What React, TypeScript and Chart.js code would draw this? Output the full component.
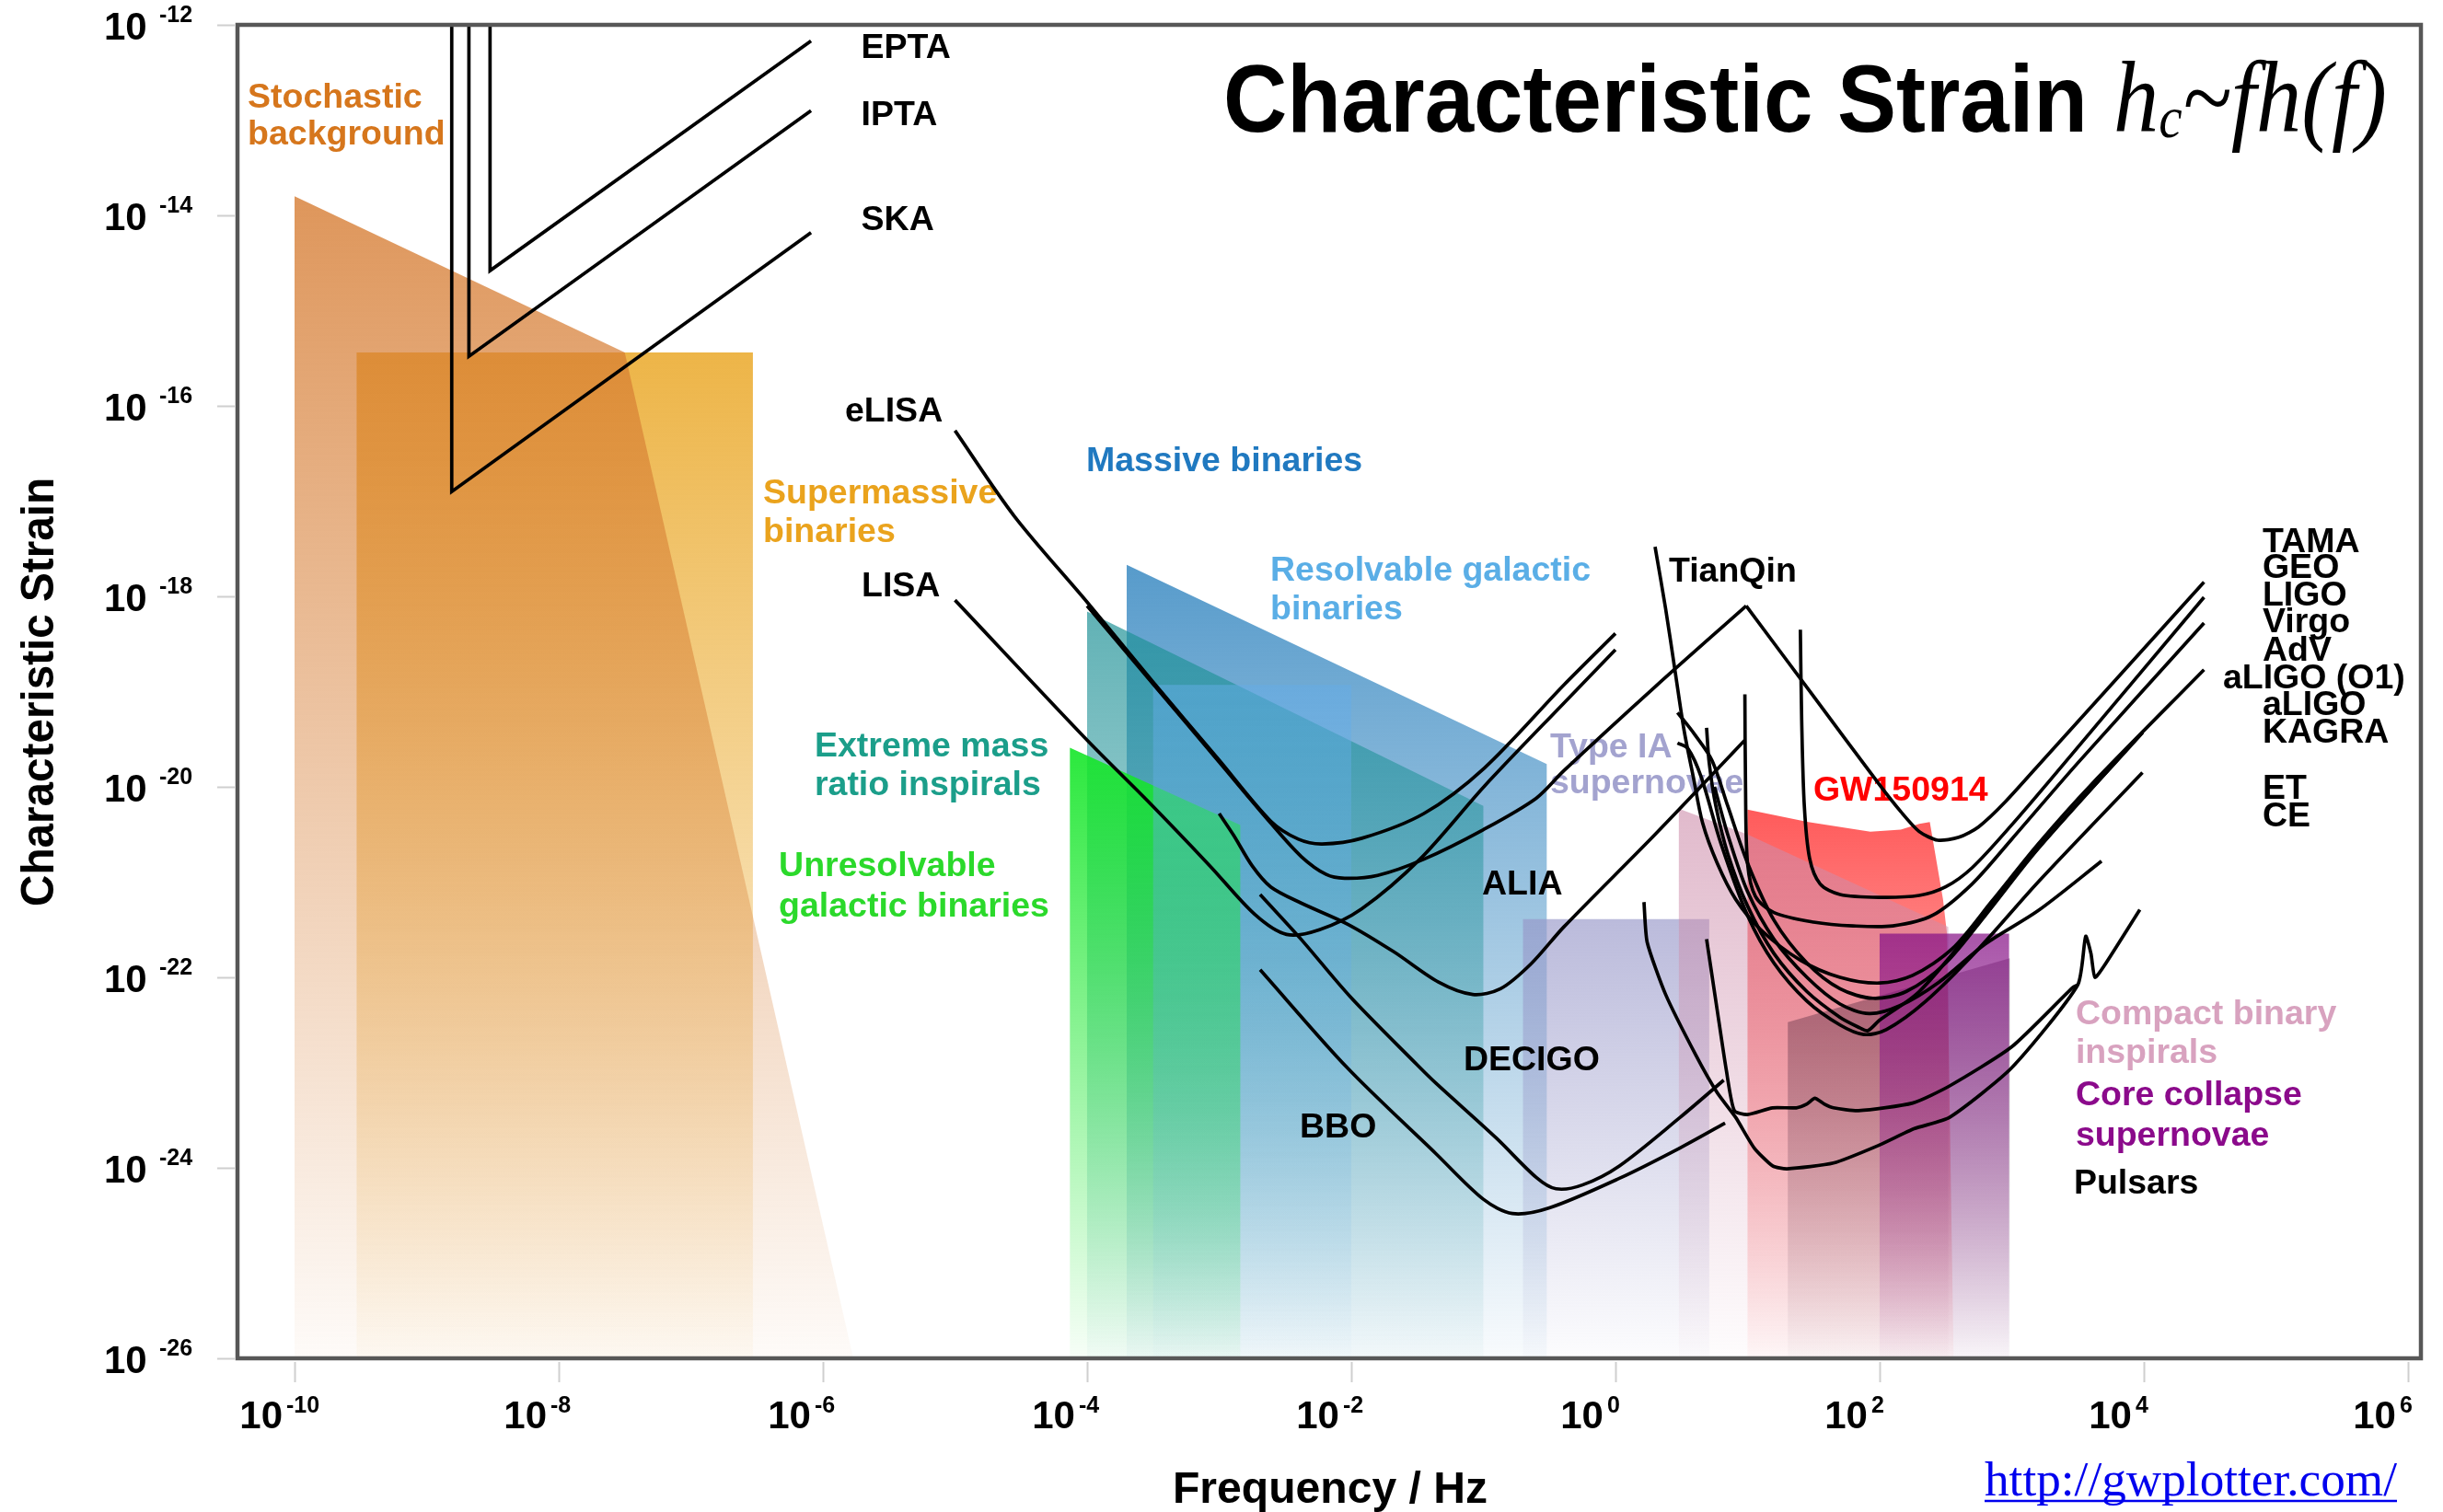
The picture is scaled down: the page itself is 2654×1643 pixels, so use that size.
import { useEffect, useRef } from 'react';
import { Chart, registerables } from 'chart.js';

Chart.register(...registerables);

type Pt = [number, number];

const W = 2654;
const H = 1643;

// ---- axes (log10 values) ----
const X_TICKS = [-10, -8, -6, -4, -2, 0, 2, 4, 6];
const Y_TICKS = [-12, -14, -16, -18, -20, -22, -24, -26];
const X_RANGE: Pt = [-10.432, 6.098];
const Y_RANGE: Pt = [-26, -12];

// ---- source regions: [log10 f (Hz), log10 h_c] ----
const SUPERMASSIVE_BINARIES: Pt[] = [[-9.53, -15.44], [-6.53, -15.44], [-6.53, -26], [-9.53, -26]];
const STOCHASTIC_BACKGROUND: Pt[] = [[-10.0, -13.8], [-7.5, -15.44], [-5.77, -26], [-10.0, -26]];
const MASSIVE_BINARIES: Pt[] = [[-3.7, -17.67], [-0.52, -19.76], [-0.52, -26], [-3.7, -26]];
const EMRI: Pt[] = [[-4.0, -18.16], [-1.0, -20.2], [-1.0, -26], [-4.0, -26]];
const UNRESOLVABLE_GB: Pt[] = [[-4.13, -19.59], [-2.84, -20.4], [-2.84, -26], [-4.13, -26]];
const RESOLVABLE_GB: Pt[] = [[-3.5, -18.93], [-2.0, -18.93], [-2.0, -26], [-3.5, -26]];
const TYPE_IA_SN: Pt[] = [[-0.7, -21.39], [0.71, -21.39], [0.71, -26], [-0.7, -26]];
const GW150914: Pt[] = [[1.0, -20.24], [1.46, -20.37], [1.93, -20.47], [2.16, -20.45], [2.3, -20.39], [2.38, -20.37], [2.48, -21.18], [2.51, -21.54], [2.56, -26], [1.0, -26]];
const COMPACT_BINARY: Pt[] = [[0.48, -20.23], [1.0, -20.5], [2.52, -21.47], [2.52, -26], [0.48, -26]];
const PULSARS: Pt[] = [[1.305, -22.47], [2.985, -21.8], [2.985, -26], [1.305, -26]];
const CORE_COLLAPSE_SN: Pt[] = [[2.0, -21.54], [2.98, -21.54], [2.98, -26], [2.0, -26]];

// ---- detector sensitivity curves ----
const EPTA: Pt[] = [[-8.52, -12.0], [-8.52, -14.58], [-6.09, -12.17]];
const IPTA: Pt[] = [[-8.68, -12.0], [-8.68, -15.48], [-6.09, -12.9]];
const SKA: Pt[] = [[-8.81, -12.0], [-8.81, -16.9], [-6.09, -14.18]];
const ELISA: Pt[] = [[-5.0, -16.26], [-4.55, -17.16], [-4.0, -18.06], [-3.5, -18.9], [-3.0, -19.72], [-2.61, -20.36], [-2.4, -20.55], [-2.22, -20.6], [-1.92, -20.54], [-1.45, -20.28], [-0.99, -19.8], [-0.39, -18.93], [0.0, -18.39]];
const TIANQIN: Pt[] = [[-4.0, -18.1], [-3.5, -18.92], [-3.0, -19.74], [-2.61, -20.38], [-2.38, -20.73], [-2.19, -20.92], [-2.05, -20.96], [-1.8, -20.93], [-1.45, -20.76], [-1.0, -20.45], [-0.6, -20.12], [-0.39, -19.83], [0.3, -18.95], [0.99, -18.1]];
const LISA: Pt[] = [[-5.0, -18.04], [-4.0, -19.51], [-3.54, -20.15], [-3.07, -20.83], [-2.73, -21.34], [-2.49, -21.55], [-2.24, -21.5], [-1.92, -21.28], [-1.48, -20.76], [-0.99, -19.99], [-0.39, -19.12], [0.0, -18.56]];
const ALIA: Pt[] = [[-3.0, -20.28], [-2.89, -20.51], [-2.75, -20.83], [-2.61, -21.05], [-2.38, -21.22], [-2.03, -21.44], [-1.68, -21.73], [-1.34, -22.05], [-1.08, -22.18], [-0.87, -22.12], [-0.64, -21.86], [-0.39, -21.47], [0.3, -20.5], [0.98, -19.51]];
const DECIGO: Pt[] = [[-2.69, -21.13], [-2.38, -21.6], [-2.01, -22.2], [-1.5, -22.92], [-1.36, -23.11], [-0.9, -23.69], [-0.6, -24.1], [-0.45, -24.22], [-0.25, -24.18], [0.03, -23.98], [0.49, -23.47], [0.82, -23.08]];
const BBO: Pt[] = [[-2.69, -21.92], [-2.03, -22.95], [-1.36, -23.85], [-1.0, -24.33], [-0.78, -24.48], [-0.5, -24.42], [0.03, -24.11], [0.49, -23.79], [0.83, -23.53]];
const TAMA: Pt[] = [[0.99, -18.1], [1.5, -19.05], [2.0, -19.98], [2.16, -20.26], [2.3, -20.47], [2.44, -20.56], [2.6, -20.53], [2.75, -20.42], [2.95, -20.16], [3.25, -19.7], [4.456, -17.85]];
const GEO: Pt[] = [[1.4, -18.35], [1.41, -19.3], [1.43, -20.2], [1.47, -20.75], [1.55, -21.02], [1.7, -21.13], [2.0, -21.16], [2.3, -21.14], [2.5, -21.05], [2.7, -20.85], [3.0, -20.4], [3.4, -19.75], [4.456, -18.01]];
const LIGO: Pt[] = [[0.98, -19.03], [0.985, -20.0], [1.0, -20.8], [1.06, -21.15], [1.2, -21.32], [1.5, -21.42], [1.8, -21.46], [2.1, -21.46], [2.4, -21.35], [2.7, -21.02], [3.0, -20.55], [3.5, -19.75], [4.456, -18.28]];
const VIRGO: Pt[] = [[0.3, -17.48], [0.38, -18.13], [0.45, -18.77], [0.52, -19.41], [0.59, -19.9], [0.66, -20.38], [0.77, -20.8], [0.91, -21.18], [1.1, -21.5], [1.4, -21.82], [1.7, -22.0], [2.0, -22.06], [2.25, -21.98], [2.55, -21.7], [2.85, -21.2], [3.2, -20.6], [3.6, -19.98], [4.456, -18.77]];
const ADV: Pt[] = [[0.47, -19.22], [0.6, -19.45], [0.73, -19.72], [0.85, -20.2], [1.0, -20.8], [1.2, -21.4], [1.45, -21.85], [1.7, -22.12], [1.95, -22.22], [2.2, -22.15], [2.5, -21.85], [2.8, -21.35], [3.2, -20.65], [3.99, -19.43]];
const ALIGO_O1: Pt[] = [[0.69, -19.38], [0.71, -19.75], [0.76, -20.2], [0.85, -20.7], [1.0, -21.25], [1.2, -21.75], [1.45, -22.15], [1.7, -22.42], [1.85, -22.53], [1.91, -22.56], [2.0, -22.45], [2.3, -22.15], [2.7, -21.5], [3.1, -20.8], [3.99, -19.43]];
const ALIGO: Pt[] = [[0.47, -19.54], [0.55, -19.6], [0.65, -19.9], [0.8, -20.6], [1.0, -21.35], [1.2, -21.85], [1.45, -22.25], [1.7, -22.5], [1.88, -22.6], [2.05, -22.55], [2.35, -22.25], [2.75, -21.7], [3.2, -21.0], [3.99, -19.85]];
const KAGRA: Pt[] = [[0.75, -20.0], [0.85, -20.5], [1.0, -21.1], [1.2, -21.6], [1.45, -22.0], [1.7, -22.28], [1.92, -22.38], [2.15, -22.3], [2.45, -22.05], [2.8, -21.65], [3.2, -21.3], [3.68, -20.78]];
const ET: Pt[] = [[0.216, -21.21], [0.24, -21.63], [0.38, -22.18], [0.61, -22.82], [0.77, -23.21], [0.91, -23.47], [1.05, -23.79], [1.19, -23.98], [1.3, -24.01], [1.65, -23.95], [2.0, -23.76], [2.26, -23.59], [2.53, -23.47], [3.0, -22.95], [3.5, -22.08], [3.56, -21.57], [3.6, -21.75], [3.63, -22.0], [3.7, -21.88], [3.97, -21.29]];
const CE: Pt[] = [[0.69, -21.6], [0.77, -22.34], [0.84, -22.98], [0.9, -23.4], [1.0, -23.44], [1.19, -23.37], [1.37, -23.37], [1.45, -23.33], [1.51, -23.27], [1.58, -23.33], [1.65, -23.37], [1.84, -23.4], [2.25, -23.32], [2.53, -23.14], [3.0, -22.73], [3.46, -22.11], [3.5, -22.08]];

// ---- drawing order / styles (not data) ----
const SHAPES = [
  { name: 'Supermassive binaries', data: SUPERMASSIVE_BINARIES, rgb: [234, 168, 40], a: 0.85 },
  { name: 'Stochastic background', data: STOCHASTIC_BACKGROUND, rgb: [214, 124, 50], a: 0.8 },
  { name: 'Massive binaries', data: MASSIVE_BINARIES, rgb: [45, 130, 190], a: 0.8 },
  { name: 'Extreme mass ratio inspirals', data: EMRI, rgb: [30, 145, 150], a: 0.7 },
  { name: 'Unresolvable galactic binaries', data: UNRESOLVABLE_GB, rgb: [20, 230, 40], a: 0.9 },
  { name: 'Resolvable galactic binaries', data: RESOLVABLE_GB, rgb: [100, 172, 232], a: 0.5 },
  { name: 'Type IA supernovae', data: TYPE_IA_SN, rgb: [150, 150, 200], a: 0.65 },
  { name: 'GW150914', data: GW150914, rgb: [255, 50, 50], a: 0.8 },
  { name: 'Compact binary inspirals', data: COMPACT_BINARY, rgb: [205, 140, 170], a: 0.6 },
  { name: 'Pulsars', data: PULSARS, rgb: [45, 15, 40], a: 0.37 },
  { name: 'Core collapse supernovae', data: CORE_COLLAPSE_SN, rgb: [135, 18, 135], a: 0.72 },
];

const CURVES = [
  { name: 'EPTA', data: EPTA, t: 0 },
  { name: 'IPTA', data: IPTA, t: 0 },
  { name: 'SKA', data: SKA, t: 0 },
  { name: 'eLISA', data: ELISA, t: 0.3 },
  { name: 'TianQin', data: TIANQIN, t: 0.3 },
  { name: 'LISA', data: LISA, t: 0.3 },
  { name: 'ALIA', data: ALIA, t: 0.3 },
  { name: 'DECIGO', data: DECIGO, t: 0.3 },
  { name: 'BBO', data: BBO, t: 0.3 },
  { name: 'TAMA', data: TAMA, t: 0.25 },
  { name: 'GEO', data: GEO, t: 0.3 },
  { name: 'LIGO', data: LIGO, t: 0.3 },
  { name: 'Virgo', data: VIRGO, t: 0.3 },
  { name: 'AdV', data: ADV, t: 0.3 },
  { name: 'aLIGO (O1)', data: ALIGO_O1, t: 0.3 },
  { name: 'aLIGO', data: ALIGO, t: 0.3 },
  { name: 'KAGRA', data: KAGRA, t: 0.3 },
  { name: 'ET', data: ET, t: 0.2 },
  { name: 'CE', data: CE, t: 0.2 },
];

const SANS = '"Liberation Sans", Arial, Helvetica, sans-serif';
const SERIF = '"Liberation Serif", "Times New Roman", Times, serif';

// annotation anchors in data coordinates (left, baseline)
const LABELS = [
  { text: 'EPTA', at: [-5.71, -12.348], color: '#000' },
  { text: 'IPTA', at: [-5.71, -13.053], color: '#000' },
  { text: 'SKA', at: [-5.71, -14.155], color: '#000' },
  { text: 'eLISA', at: [-5.833, -16.169], color: '#000' },
  { text: 'LISA', at: [-5.707, -18.0], color: '#000' },
  { text: 'Stochastic', at: [-10.355, -12.87], color: '#d6761c' },
  { text: 'background', at: [-10.355, -13.256], color: '#d6761c' },
  { text: 'Supermassive', at: [-6.453, -17.024], color: '#eaa31d' },
  { text: 'binaries', at: [-6.453, -17.43], color: '#eaa31d' },
  { text: 'Massive binaries', at: [-4.007, -16.686], color: '#2079c0' },
  { text: 'Resolvable galactic', at: [-2.613, -17.836], color: '#5aaee6' },
  { text: 'binaries', at: [-2.613, -18.242], color: '#5aaee6' },
  { text: 'Extreme mass', at: [-6.063, -19.681], color: '#1b9e8a' },
  { text: 'ratio inspirals', at: [-6.063, -20.087], color: '#1b9e8a' },
  { text: 'Unresolvable', at: [-6.334, -20.937], color: '#2bd92b' },
  { text: 'galactic binaries', at: [-6.334, -21.362], color: '#2bd92b' },
  { text: 'ALIA', at: [-1.01, -21.13], color: '#000' },
  { text: 'DECIGO', at: [-1.15, -22.976], color: '#000' },
  { text: 'BBO', at: [-2.39, -23.681], color: '#000' },
  { text: 'TianQin', at: [0.404, -17.845], color: '#000' },
  { text: 'Type IA', at: [-0.495, -19.691], color: '#a3a3cf' },
  { text: 'supernovae', at: [-0.495, -20.068], color: '#a3a3cf' },
  { text: 'GW150914', at: [1.498, -20.145], color: '#ff0000' },
  { text: 'Compact binary', at: [3.484, -22.493], color: '#d8a2bf' },
  { text: 'inspirals', at: [3.484, -22.899], color: '#d8a2bf' },
  { text: 'Core collapse', at: [3.484, -23.343], color: '#8b0a8b' },
  { text: 'supernovae', at: [3.484, -23.768], color: '#8b0a8b' },
  { text: 'Pulsars', at: [3.47, -24.271], color: '#000' },
  { text: 'TAMA', at: [4.899, -17.536], color: '#000' },
  { text: 'GEO', at: [4.899, -17.807], color: '#000' },
  { text: 'LIGO', at: [4.899, -18.097], color: '#000' },
  { text: 'Virgo', at: [4.899, -18.377], color: '#000' },
  { text: 'AdV', at: [4.899, -18.676], color: '#000' },
  { text: 'aLIGO (O1)', at: [4.599, -18.966], color: '#000' },
  { text: 'aLIGO', at: [4.899, -19.246], color: '#000' },
  { text: 'KAGRA', at: [4.899, -19.536], color: '#000' },
  { text: 'ET', at: [4.899, -20.126], color: '#000' },
  { text: 'CE', at: [4.899, -20.415], color: '#000' },
];

function rgba(c: number[], a: number) {
  return `rgba(${c[0]},${c[1]},${c[2]},${a})`;
}

function gradientFill(rgb: number[], alpha: number, top: number) {
  return (context: any) => {
    const chart = context.chart;
    const ys = chart.scales && chart.scales.y;
    if (!chart.chartArea || !ys) return rgba(rgb, alpha);
    const y0 = ys.getPixelForValue(top);
    const y1 = ys.getPixelForValue(Y_RANGE[0]);
    const g = chart.ctx.createLinearGradient(0, y0, 0, y1);
    g.addColorStop(0, rgba(rgb, alpha));
    g.addColorStop(1, rgba(rgb, alpha * 0.04));
    return g;
  };
}

function drawText(ctx: CanvasRenderingContext2D, s: string, x: number, y: number, font: string, color: string, align: CanvasTextAlign = 'left', fitWidth = 0) {
  ctx.save();
  ctx.font = font;
  ctx.fillStyle = color;
  ctx.textAlign = align;
  ctx.textBaseline = 'alphabetic';
  ctx.translate(x, y);
  if (fitWidth > 0) {
    const w = ctx.measureText(s).width;
    ctx.scale(fitWidth / w, 1);
  }
  ctx.fillText(s, 0, 0);
  ctx.restore();
}

function drawLabels(chart: any) {
  const ctx = chart.ctx as CanvasRenderingContext2D;
  const xs = chart.scales.x;
  const ys = chart.scales.y;
  for (const l of LABELS) {
    drawText(ctx, l.text, xs.getPixelForValue(l.at[0]), ys.getPixelForValue(l.at[1]), `bold 37.5px ${SANS}`, l.color);
  }
}

function drawDecor(chart: any) {
  const ctx = chart.ctx as CanvasRenderingContext2D;
  const { left, right, top, bottom } = chart.chartArea;
  const xs = chart.scales.x;
  const ys = chart.scales.y;
  ctx.save();
  // tick marks
  ctx.strokeStyle = '#cfcfcf';
  ctx.lineWidth = 2;
  for (const v of Y_TICKS) {
    const y = Math.round(ys.getPixelForValue(v)) + 0.5;
    ctx.beginPath(); ctx.moveTo(left - 22, y); ctx.lineTo(left - 3, y); ctx.stroke();
  }
  for (const v of X_TICKS) {
    const x = Math.round(xs.getPixelForValue(v)) + 0.5;
    ctx.beginPath(); ctx.moveTo(x, bottom + 4); ctx.lineTo(x, bottom + 26); ctx.stroke();
  }
  // frame
  ctx.strokeStyle = '#575757';
  ctx.lineWidth = 4.5;
  ctx.strokeRect(left, top, right - left, bottom - top);
  ctx.restore();

  // tick labels
  for (const v of Y_TICKS) {
    const y = ys.getPixelForValue(v);
    drawText(ctx, '10', left - 145, y + 16, `bold 42px ${SANS}`, '#000');
    drawText(ctx, String(v), left - 85, y - 3, `bold 25px ${SANS}`, '#000');
  }
  for (const v of X_TICKS) {
    const x = xs.getPixelForValue(v);
    drawText(ctx, '10', x - 13, bottom + 76, `bold 42px ${SANS}`, '#000', 'right');
    drawText(ctx, String(v), x - 9, bottom + 59, `bold 25px ${SANS}`, '#000', 'left');
  }

  // axis titles
  drawText(ctx, 'Frequency / Hz', 1445, 1633, `bold 48px ${SANS}`, '#000', 'center', 342);
  ctx.save();
  ctx.translate(58, 752);
  ctx.rotate(-Math.PI / 2);
  drawText(ctx, 'Characteristic Strain', 0, 0, `bold 50px ${SANS}`, '#000', 'center', 466);
  ctx.restore();

  // title
  drawText(ctx, 'Characteristic Strain', 1329, 143, `bold 104px ${SANS}`, '#000', 'left', 939);
  ctx.save();
  ctx.fillStyle = '#000';
  const mainF = `italic 110px ${SERIF}`;
  const subF = `italic 64px ${SERIF}`;
  ctx.font = mainF;
  const wh = ctx.measureText('h').width;
  const wr = ctx.measureText('~fh(f)').width;
  ctx.font = subF;
  const wc = ctx.measureText('c').width;
  const sx = 297 / (wh + wc + wr);
  ctx.translate(2296, 143);
  ctx.scale(sx, 1);
  ctx.font = mainF;
  ctx.fillText('h', 0, 0);
  ctx.font = subF;
  ctx.fillText('c', wh, 6);
  ctx.font = mainF;
  ctx.fillText('~fh(f)', wh + wc, 0);
  ctx.restore();

  // source link
  drawText(ctx, 'http://gwplotter.com/', 2156, 1625, `52px ${SERIF}`, '#0000ee', 'left', 448);
  ctx.save();
  ctx.strokeStyle = '#0000ee';
  ctx.lineWidth = 2.5;
  ctx.beginPath(); ctx.moveTo(2156, 1631); ctx.lineTo(2604, 1631); ctx.stroke();
  ctx.restore();
}

export default function App() {
  const ref = useRef<HTMLCanvasElement>(null);
  useEffect(() => {
    document.body.style.margin = '0';
    document.body.style.overflow = 'hidden';
    const canvas = ref.current;
    if (!canvas) return;

    const shapeSets = SHAPES.map((s) => ({
      label: s.name,
      data: s.data.map(([x, y]) => ({ x, y })),
      fill: 'shape',
      backgroundColor: gradientFill(s.rgb, s.a, Math.max(...s.data.map((p) => p[1]))),
      borderColor: 'rgba(0,0,0,0)',
      borderWidth: 0,
      pointRadius: 0,
      tension: 0,
    }));
    const curveSets = CURVES.map((c) => ({
      label: c.name,
      data: c.data.map(([x, y]) => ({ x, y })),
      fill: false,
      borderColor: '#000',
      borderWidth: 3.7,
      pointRadius: 0,
      tension: c.t,
    }));
    const datasets = [...shapeSets, ...curveSets].map((d, i) => ({ ...d, order: -i }));

    const decor = {
      id: 'decor',
      afterDatasetDraw(chart: any, args: any) {
        if (args.index === SHAPES.length - 1) drawLabels(chart);
      },
      afterDraw(chart: any) {
        drawDecor(chart);
      },
    };

    const chart = new Chart(canvas, {
      type: 'line',
      data: { datasets } as any,
      options: {
        responsive: false,
        animation: false,
        devicePixelRatio: 1,
        layout: { padding: { left: 258, right: 24, top: 27, bottom: 167 } },
        scales: {
          x: { type: 'linear', min: X_RANGE[0], max: X_RANGE[1], display: false },
          y: { type: 'linear', min: Y_RANGE[0], max: Y_RANGE[1], display: false },
        },
        plugins: { legend: { display: false }, tooltip: { enabled: false } },
        elements: { point: { radius: 0 } },
      } as any,
      plugins: [decor],
    });
    return () => chart.destroy();
  }, []);
  return <canvas ref={ref} width={W} height={H} style={{ display: 'block', width: W, height: H }} />;
}
